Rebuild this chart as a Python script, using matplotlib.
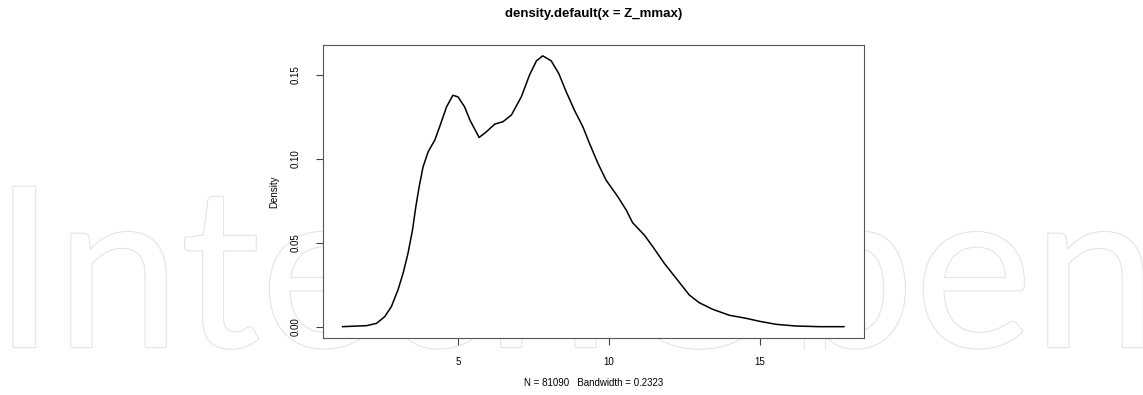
import matplotlib
matplotlib.use('Agg')
import matplotlib.pyplot as plt
import matplotlib.patheffects as pe
from matplotlib.transforms import Bbox

# density curve of Z_mmax
z = [1.17, 1.97, 2.30, 2.57, 2.79, 3.01, 3.18, 3.34, 3.49, 3.60, 3.71, 3.84,
     4.01, 4.23, 4.39, 4.62, 4.83, 5.00, 5.22, 5.40, 5.70, 5.94, 6.22, 6.49,
     6.77, 7.10, 7.37, 7.60, 7.81, 8.09, 8.34, 8.59, 8.86, 9.14, 9.36, 9.64,
     9.91, 10.30, 10.58, 10.79, 11.18, 11.46, 11.84, 12.28, 12.67, 13.00,
     13.44, 14.00, 14.55, 15.00, 15.55, 16.20, 16.98, 17.80]
dens = [0.0, 0.0006, 0.002, 0.006, 0.012, 0.022, 0.032, 0.0437, 0.0576,
        0.0715, 0.0834, 0.0953, 0.1043, 0.1113, 0.1192, 0.1311, 0.138, 0.137,
        0.131, 0.123, 0.1128, 0.1162, 0.1208, 0.1222, 0.1262, 0.1371, 0.150,
        0.1585, 0.1615, 0.1585, 0.151, 0.140, 0.1291, 0.1192, 0.1093, 0.0974,
        0.0874, 0.0775, 0.0695, 0.062, 0.0546, 0.0477, 0.0378, 0.0278,
        0.0189, 0.0143, 0.0104, 0.0068, 0.005, 0.0032, 0.0014, 0.0004, 0.0,
        0.0]
xticks = [5, 10, 15]
yticks = [0.00, 0.05, 0.10, 0.15]

plt.rcParams['font.family'] = ['Liberation Sans', 'DejaVu Sans']

W, H = 1143, 395
fig = plt.figure(figsize=(W / 100, H / 100), dpi=100)

# faint watermark behind the plot, cut off just below the baseline
wm = fig.text(-7 / W, 1 - 347 / H, 'IntechOpen', family='Lato', fontsize=161,
              color='white', ha='left', va='baseline', zorder=0,
              path_effects=[pe.Stroke(linewidth=1.6, foreground='#e4e4e4'),
                            pe.Normal()])
wm.set_clip_box(Bbox.from_extents(0, H - 350, W, H))
wm.set_clip_on(True)

ax = fig.add_axes([322.5 / W, 1 - 337.5 / H, (864 - 322.5) / W, (337.5 - 45) / H])
ax.set_facecolor('white')
ax.set_zorder(2)
ax.plot(z, dens, color='black', lw=1.1)

rng = max(z) - min(z)
ax.set_xlim(min(z) - 0.04 * rng, max(z) + 0.04 * rng)
ax.set_ylim(-0.04 * max(dens), 1.04 * max(dens))

ax.set_xticks(xticks)
ax.set_xticklabels([str(t) for t in xticks])
ax.set_yticks(yticks)
ax.set_yticklabels(['%.2f' % t for t in yticks], rotation=90, va='center')
ax.tick_params(direction='out', length=5, width=0.8, labelsize=7, color='#444',
               pad=11)
ax.tick_params(axis='x', pad=9)
for s in ax.spines.values():
    s.set_color('#555')
    s.set_linewidth(0.8)

ax.set_ylabel('Density', fontsize=7, labelpad=8)
ax.set_xlabel('N = 81090   Bandwidth = 0.2323', fontsize=7, labelpad=8)
ax.set_title('density.default(x = Z_mmax)', fontsize=9.5, fontweight='bold',
             pad=20.5)

fig.savefig('out.png', dpi=100, facecolor='white')
